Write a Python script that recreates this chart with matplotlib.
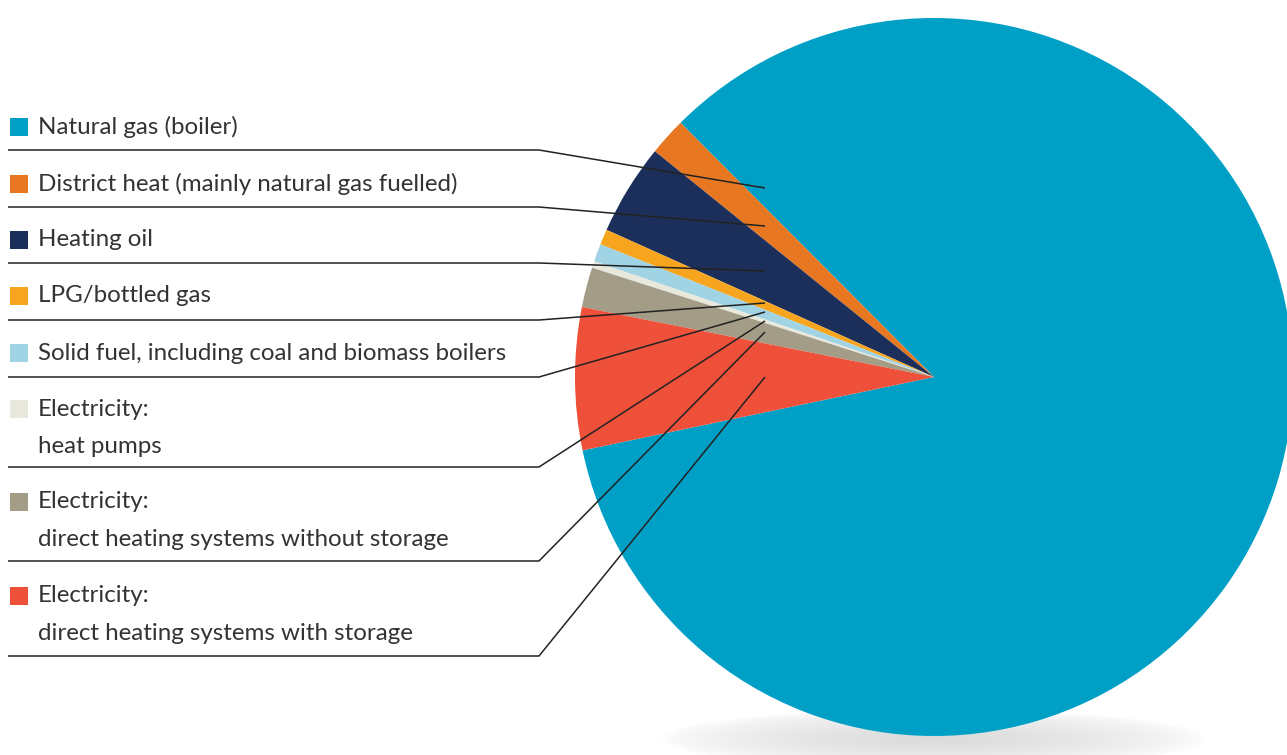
import numpy as np
import matplotlib.pyplot as plt

# shares (%), legend order
labels = ['Natural gas (boiler)',
          'District heat (mainly natural gas fuelled)',
          'Heating oil',
          'LPG/bottled gas',
          'Solid fuel, including coal and biomass boilers',
          'Electricity:\nheat pumps',
          'Electricity:\ndirect heating systems without storage',
          'Electricity:\ndirect heating systems with storage']
shares = [84.2, 1.7, 4.1, 0.7, 0.8, 0.3, 1.8, 6.4]
colors = ['#00a0c6', '#e87722', '#1c2f5a', '#f7a51e', '#a0d3e4',
          '#e8e8dc', '#a39c87', '#ee503a']

W, H = 1287, 755
fig = plt.figure(figsize=(W / 100, H / 100), dpi=100)
ax = fig.add_axes([0, 0, 1, 1])

cx, cy, r = 934, H - 377, 359

# soft shadow under the pie
gx = np.linspace(640, 1230, 300)
gy = np.linspace(0, 60, 60)
X, Y = np.meshgrid(gx, gy)
rr = np.sqrt(((X - 934) / 275) ** 2 + ((Y - 16) / 30) ** 2)
alpha = 0.15 * np.clip(1 - rr, 0, 1) ** 0.6
img = np.zeros(X.shape + (4,))
img[..., 3] = alpha
ax.imshow(img, extent=(640, 1230, 0, 60), origin='lower', zorder=0, aspect='auto')

ax.pie(shares, colors=colors, startangle=191.8, counterclock=True,
       center=(cx, cy), radius=r, frame=True,
       wedgeprops=dict(linewidth=0))
ax.set_xlim(0, W)
ax.set_ylim(0, H)
ax.set_aspect('equal')
ax.axis('off')

# legend with leader lines
text_y = [127, 184, 240, 296, 353, 409, 502, 596]
line_y = [150, 207, 263, 320, 377, 467, 561, 656]
end_y = [188, 226, 271, 303, 312, 321, 332, 377]
font = ['Lato', 'DejaVu Sans']
for i, lab in enumerate(labels):
    ty = H - text_y[i]
    ax.add_patch(plt.Rectangle((10, ty - 9), 18, 18, color=colors[i], lw=0, zorder=3))
    for k, part in enumerate(lab.split('\n')):
        ax.text(38, ty - 37.5 * k, part, fontsize=17.4, family=font, color='#333333',
                va='center', ha='left', zorder=3)
    ly = H - line_y[i]
    ax.plot([8, 539, 765], [ly, ly, H - end_y[i]], color='#222222', lw=1.1,
            solid_capstyle='butt', zorder=4)

fig.savefig('out.png', dpi=100)
